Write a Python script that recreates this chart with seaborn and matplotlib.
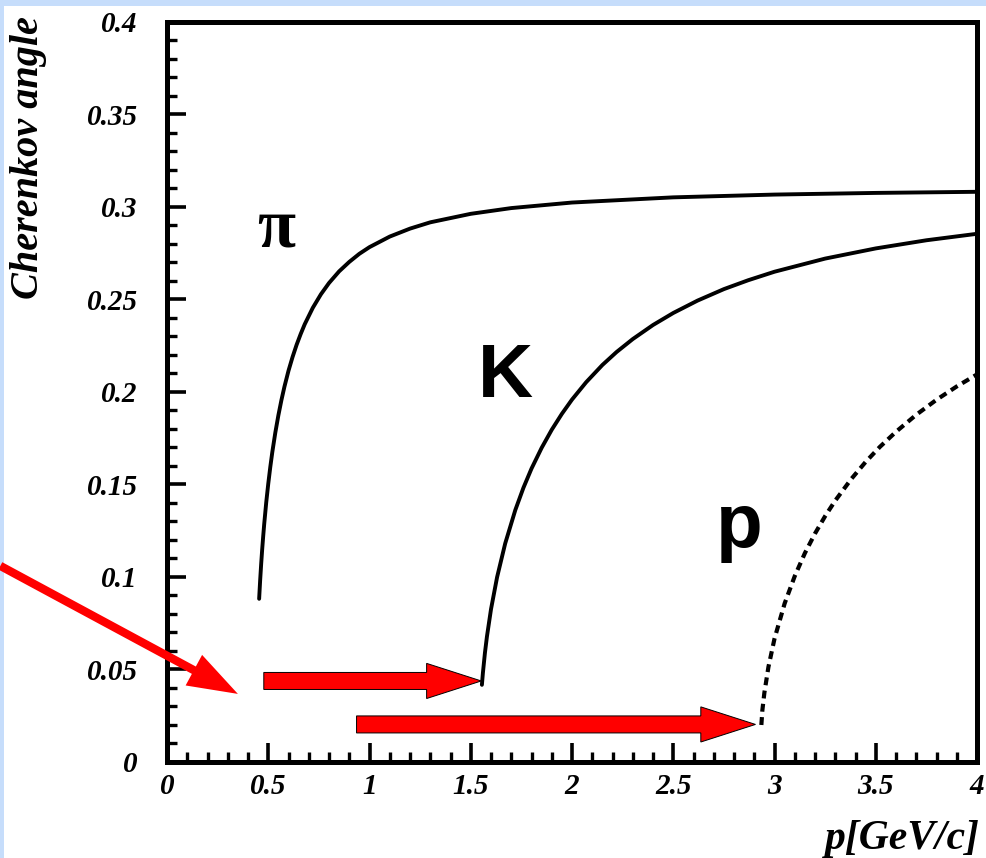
import matplotlib
matplotlib.use("Agg")
import matplotlib.pyplot as plt
import seaborn as sns
from matplotlib.patches import Rectangle
from matplotlib.ticker import MultipleLocator

# momentum [GeV/c] vs Cherenkov angle
pi_p = [0.455, 0.46, 0.465, 0.47, 0.475, 0.48, 0.49, 0.50, 0.51, 0.52, 0.535,
        0.55, 0.565, 0.58, 0.60, 0.62, 0.64, 0.66, 0.68, 0.72, 0.76, 0.80,
        0.85, 0.90, 0.95, 1.0, 1.1, 1.2, 1.3, 1.5, 1.7, 2.0, 2.5, 3.0, 3.5, 4.0]
pi_angle = [0.0882, 0.0982, 0.1070, 0.1149, 0.1220, 0.1286, 0.1403, 0.1504,
            0.1594, 0.1675, 0.1781, 0.1874, 0.1956, 0.2029, 0.2115, 0.2189,
            0.2255, 0.2313, 0.2366, 0.2455, 0.2528, 0.2589, 0.2652, 0.2703,
            0.2747, 0.2783, 0.2840, 0.2883, 0.2917, 0.2963, 0.2994, 0.3024,
            0.3052, 0.3067, 0.3076, 0.3082]

k_p = [1.555, 1.56, 1.57, 1.58, 1.60, 1.63, 1.67, 1.72, 1.76, 1.80, 1.85,
       1.90, 1.95, 2.0, 2.07, 2.15, 2.22, 2.3, 2.4, 2.5, 2.62, 2.75, 2.87,
       3.0, 3.25, 3.5, 3.75, 4.0]
k_angle = [0.0417, 0.0482, 0.0590, 0.0679, 0.0826, 0.0999, 0.1181, 0.1362,
           0.1482, 0.1586, 0.1698, 0.1796, 0.1882, 0.1959, 0.2053, 0.2146,
           0.2216, 0.2286, 0.2362, 0.2427, 0.2494, 0.2556, 0.2604, 0.2650,
           0.2721, 0.2776, 0.2820, 0.2855]

pr_p = [2.935, 2.94, 2.95, 2.97, 3.0, 3.05, 3.1, 3.15, 3.2, 3.25, 3.3, 3.38,
        3.45, 3.52, 3.6, 3.7, 3.8, 3.9, 4.0]
pr_angle = [0.0200, 0.0280, 0.0375, 0.0514, 0.0667, 0.0857, 0.1005, 0.1129,
            0.1235, 0.1329, 0.1413, 0.1531, 0.1622, 0.1703, 0.1785, 0.1877,
            0.1958, 0.2030, 0.2095]

# threshold arrows (tail, tip, height)
arrow_tail = [0.478, 0.936]
arrow_tip = [1.552, 2.906]
arrow_y = [0.0438, 0.0203]

# pointer arrow coming in from the left
pointer_from = (-0.823, 0.106)
pointer_to = (0.35, 0.0368)

x_ticks = [0, 0.5, 1, 1.5, 2, 2.5, 3, 3.5, 4]
x_labels = ["0", "0.5", "1", "1.5", "2", "2.5", "3", "3.5", "4"]
y_ticks = [0, 0.05, 0.1, 0.15, 0.2, 0.25, 0.3, 0.35, 0.4]
y_labels = ["0", "0.05", "0.1", "0.15", "0.2", "0.25", "0.3", "0.35", "0.4"]

sns.set_style("ticks")
plt.rcParams.update({
    "text.color": "black",
    "axes.labelcolor": "black",
    "xtick.color": "black",
    "ytick.color": "black",
})

SERIF = "Liberation Serif"
SANS = "Liberation Sans"

fig = plt.figure(figsize=(9.87, 8.58), dpi=100, facecolor="white")
ax = fig.add_axes([0.1692, 0.1119, 0.8207, 0.8625])

# slide border
strip = "#c6ddfb"
fig.patches.append(Rectangle((0, 1 - 6 / 858), 1, 6 / 858, transform=fig.transFigure,
                             facecolor=strip, edgecolor="none", zorder=-1))
fig.patches.append(Rectangle((0, 0), 4 / 987, 1, transform=fig.transFigure,
                             facecolor=strip, edgecolor="none", zorder=-1))

sns.lineplot(x=pi_p, y=pi_angle, ax=ax, color="black", linewidth=2.8)
sns.lineplot(x=k_p, y=k_angle, ax=ax, color="black", linewidth=2.8)
sns.lineplot(x=pr_p, y=pr_angle, ax=ax, color="black", linewidth=3.0,
             linestyle=(0, (1.9, 1.3)))

for x0, x1, y in zip(arrow_tail, arrow_tip, arrow_y):
    ax.arrow(x0, y, x1 - x0, 0, width=0.0092, head_width=0.019, head_length=0.27,
             length_includes_head=True, facecolor="#ff0000", edgecolor="black",
             linewidth=0.7, zorder=3)

ax.annotate("", xy=pointer_to, xytext=pointer_from, xycoords="data",
            annotation_clip=False,
            arrowprops=dict(arrowstyle="simple,head_length=1.8,head_width=1.25,tail_width=0.3",
                            mutation_scale=20, facecolor="#ff0000", edgecolor="none",
                            shrinkA=0, shrinkB=0))

ax.text(0.537, 0.2876, "π", fontsize=50, fontweight="bold", family=SERIF,
        color="black", ha="center", va="center")
ax.text(1.67, 0.1973, "K", fontsize=55, fontweight="bold", family=SANS,
        color="black", ha="center", va="baseline")
ax.text(2.828, 0.1162, "p", fontsize=55, fontweight="bold", family=SANS,
        color="black", ha="center", va="baseline")

ax.set_xlim(0, 4)
ax.set_ylim(0, 0.4)
ax.set_xticks(x_ticks)
ax.set_xticklabels(x_labels)
ax.set_yticks(y_ticks)
ax.set_yticklabels(y_labels)
ax.xaxis.set_minor_locator(MultipleLocator(0.1))
ax.yaxis.set_minor_locator(MultipleLocator(0.01))

ax.tick_params(which="both", direction="in", top=False, right=False,
               color="black", labelcolor="black")
ax.tick_params(which="major", length=14, width=2.6)
ax.tick_params(which="minor", length=7, width=2.4)
ax.tick_params(axis="y", which="major", pad=21)
ax.tick_params(axis="x", which="major", pad=8)
for lab in ax.get_xticklabels() + ax.get_yticklabels():
    lab.set_fontfamily(SERIF)
    lab.set_fontsize(21)
    lab.set_fontweight("bold")
    lab.set_fontstyle("italic")

for s in ax.spines.values():
    s.set_visible(True)
    s.set_linewidth(3.6)
    s.set_color("black")

fig.text(29 / 987, 1 - 158 / 858, "Cherenkov angle", rotation=90, fontsize=29,
         family=SERIF, fontweight="bold", fontstyle="italic", color="black",
         ha="center", va="center")
fig.text(0.993, 0.0, "p[GeV/c]", fontsize=30, family=SERIF, fontweight="bold",
         fontstyle="italic", color="black", ha="right", va="bottom")

fig.savefig("out.png", dpi=100, facecolor="white")
